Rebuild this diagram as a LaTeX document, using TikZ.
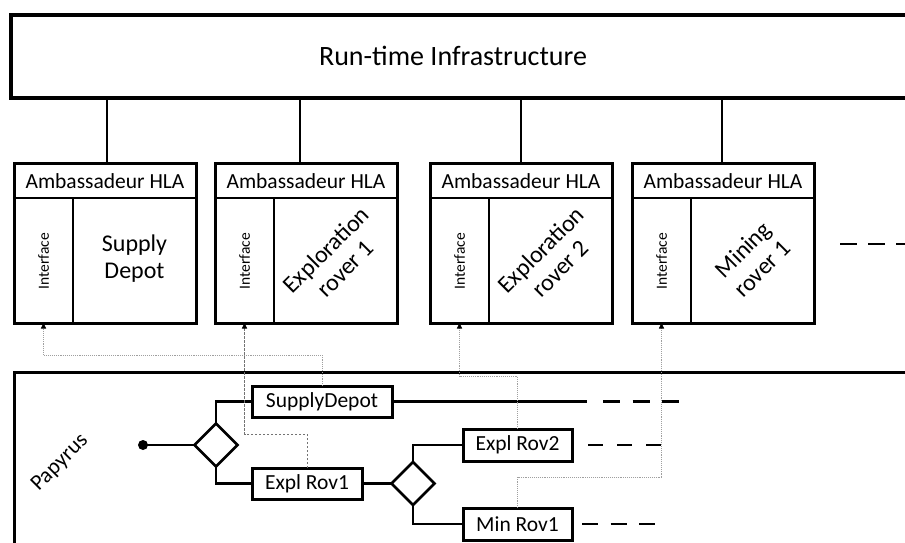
\documentclass[tikz,border=0pt]{standalone}
\usepackage{fontspec}
\setmainfont{Carlito}
\usetikzlibrary{shapes.geometric,arrows.meta,shadows}
\begin{document}
\begin{tikzpicture}[x=1pt,y=-1pt,
  shade box/.style={drop shadow={shadow xshift=1.5pt,shadow yshift=-1.5pt,opacity=0.25,fill=black}},
  rtibox/.style={draw,line width=3.4pt,fill=white,outer sep=0pt,inner sep=0pt,anchor=north west,minimum width=930pt,minimum height=83pt},
  ambbox/.style={draw,line width=3pt,fill=white,outer sep=0pt,inner sep=0pt,minimum width=182pt,minimum height=160pt,shade box},
  headline/.style={line width=1.8pt},
  divider/.style={line width=1.1pt},
  headtext/.style={font=\fontsize{21.5}{24}\selectfont,inner sep=0pt},
  ifacetext/.style={font=\fontsize{15.5}{18}\selectfont,inner sep=0pt,rotate=90},
  contenttext/.style={font=\fontsize{24}{27}\selectfont,align=center,inner sep=0pt},
  rtiline/.style={line width=2.6pt},
  papbox/.style={draw,line width=3pt,fill=white,outer sep=0pt,inner sep=0pt,minimum height=31pt,font=\fontsize{21.5}{24}\selectfont,shade box},
  gate/.style={draw,diamond,aspect=1,line width=2.8pt,fill=white,inner sep=0pt,minimum width=43pt,minimum height=43pt,outer sep=0pt},
  conn/.style={line width=2.6pt},
  dashconn/.style={line width=2.8pt,dash pattern=on 16pt off 12.5pt},
  link/.style={draw=gray!75,line width=0.9pt,densely dotted,-{Triangle[length=5.5pt,width=5pt,color=black]}}
]
\useasboundingbox (0,0) rectangle (905,543);
\clip (0,0) rectangle (905,543);

% Run-time infrastructure
\node[rtibox] (rti) at (11,15) {};
\node[font=\fontsize{28}{32}\selectfont,inner sep=0pt] (rtitext) at (453,56) {Run-time Infrastructure};

% Papyrus frame
\node[draw,line width=3pt,anchor=north west,minimum width=930pt,minimum height=250pt,outer sep=0pt,inner sep=0pt] (pap) at (14,372) {};
\node[font=\fontsize{22}{26}\selectfont,rotate=45,inner sep=0pt] (paptext) at (60,463) {Papyrus};

% Ambassador boxes
\foreach \n/\x/\t/\r/\c in {1/14/{Supply\\Depot}/0/93, 2/215/{Exploration\\rover 1}/45/85, 3/430/{Exploration\\rover 2}/45/91, 4/632/{Mining\\rover 1}/45/90}{
  \draw[rtiline] (\x+\c,97) -- (\x+\c,163);
  \node[ambbox,anchor=north west] (a\n) at (\x,163) {};
  \node[headtext] (h\n) at (\x+91,181) {Ambassadeur HLA};
  \draw[headline] ([yshift=-35pt]a\n.north west) -- ([yshift=-35pt]a\n.north east);
  \draw[divider] ([xshift=59pt,yshift=-35pt]a\n.north west) -- ([xshift=59pt]a\n.south west);
  \node[ifacetext] (if\n) at (\x+29.5,261) {Interface};
  \node[contenttext,rotate=\r] (c\n) at (\x+120.5,259) {\t};
  \coordinate (i\n) at ([xshift=29.5pt]a\n.south west);
}
\coordinate (more) at (840,244);
\draw[dashconn,dash pattern=on 17pt off 11pt] (more) -- (910,244);

% Papyrus process
\coordinate (start) at (143,445);
\fill (start) circle (5pt);
\node[gate] (d1) at (216,445) {};
\node[papbox,minimum width=140pt] (sd) at (322,401.5) {SupplyDepot};
\node[papbox,minimum width=110pt] (er1) at (307,483.5) {Expl Rov1};
\node[gate] (d2) at (413,483.5) {};
\node[papbox,minimum width=109pt,minimum height=32pt] (er2) at (517.5,445) {Expl Rov2};
\node[papbox,minimum width=109pt,minimum height=32pt] (mr1) at (517.5,524) {Min Rov1};

\draw[conn] (start) -- (d1.west);
\draw[conn] (d1.north) |- (sd.west);
\draw[conn] (d1.south) |- (er1.west);
\draw[conn] (er1.east) -- (d2.west);
\draw[conn] (d2.north) |- (er2.west);
\draw[conn] (d2.south) |- (mr1.west);

\coordinate (sdend) at (587,401.5);
\draw[conn] (sd.east) -- (sdend);
\draw[dashconn,dash pattern=on 17pt off 12.5pt] (603,401.5) -- (679,401.5);
\draw[dashconn,dash pattern=on 15pt off 14pt] ([xshift=16pt]er2.east) -- ([xshift=91pt]er2.east);
\draw[dashconn,dash pattern=on 16pt off 12.5pt] ([xshift=10pt]mr1.east) -- ([xshift=86pt]mr1.east);

% Links from Papyrus elements to the interfaces
\draw[link] (sd.north) -- (sd.north |- 0,355) -| (i1);
\draw[link,draw=gray!90!black,dashed,dash pattern=on 2.5pt off 1.5pt] (er1.north) -- (er1.north |- 0,434) -| (i2);
\draw[link] (er2.north) -- (er2.north |- 0,376) -| (i3);
\draw[link] (mr1.north) -- (mr1.north |- 0,477) -| (i4);
\end{tikzpicture}
\end{document}
